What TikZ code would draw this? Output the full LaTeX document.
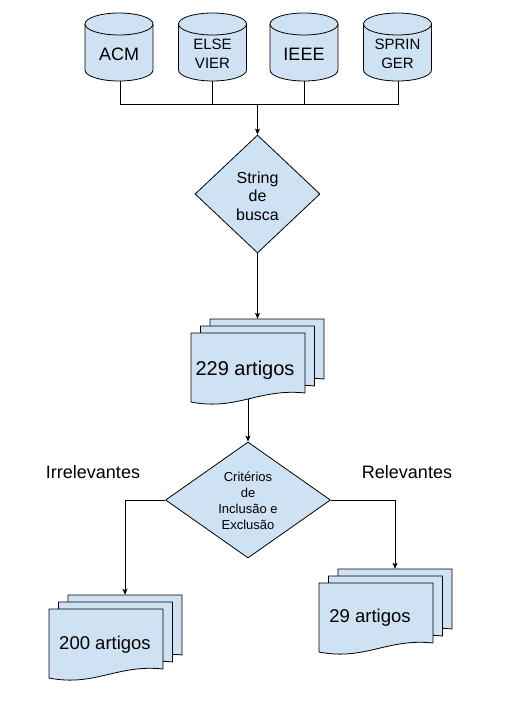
\documentclass[tikz,border=0pt]{standalone}
\usepackage{fontspec}
\setmainfont{Liberation Sans}
\usetikzlibrary{arrows.meta,shapes.geometric}
\definecolor{boxfill}{HTML}{CFE2F3}
\tikzset{
  shapest/.style={draw=black, fill=boxfill, line width=0.8pt, line join=round},
  conn/.style={draw=black, line width=0.8pt},
  arr/.style={conn, -{Stealth[length=6pt,width=5pt,inset=1.5pt]}},
  geo/.style={inner sep=0pt, minimum width=#1pt},
  lbl/.style={inner sep=0pt, align=center},
}
\newcommand\cylshape[1]{%
  \filldraw[shapest] (#1-34,24) -- (#1-34,70)
    arc[start angle=180,end angle=0,x radius=34,y radius=11]
    -- (#1+34,24)
    arc[start angle=0,end angle=-180,x radius=34,y radius=11] -- cycle;
  \draw[shapest,fill=none] (#1+34,24) arc[start angle=0,end angle=180,x radius=34,y radius=11];
}
\newcommand\sheet[2]{%
  \filldraw[shapest] (#1,#2) -- (#1+114,#2) -- (#1+114,#2+60)
    .. controls (#1+68.4,#2+55) and (#1+45.6,#2+78) .. (#1,#2+69) -- cycle;
}
\newcommand\docstack[3]{%
  \sheet{#2+19}{#3-14}
  \sheet{#2+9.5}{#3-7}
  \sheet{#2}{#3}
  \node[inner sep=0pt, minimum width=114pt, minimum height=69pt] (#1) at (#2+57,#3+34.5) {};
  \node[inner sep=0pt, minimum width=114pt, minimum height=69pt] (#1b) at (#2+76,#3+20.5) {};
  \coordinate (#1w) at (#2+57,#3+66);
}
\begin{document}
\begin{tikzpicture}[x=1pt,y=-1pt]
\useasboundingbox (0,0) rectangle (511,707);
% databases
\cylshape{119}
\cylshape{212.5}
\cylshape{304}
\cylshape{397.5}
\node[inner sep=0pt, minimum width=68pt, minimum height=68pt] (cA) at (120,47) {};
\node[inner sep=0pt, minimum width=68pt, minimum height=68pt] (cE) at (212.5,47) {};
\node[inner sep=0pt, minimum width=68pt, minimum height=68pt] (cI) at (304,47) {};
\node[inner sep=0pt, minimum width=68pt, minimum height=68pt] (cS) at (398,47) {};
\node[lbl, font=\fontsize{18}{21}\selectfont] (tA) at (119,54) {ACM};
\node[lbl, font=\fontsize{15}{18.5}\selectfont] (tE) at (212.5,54) {ELSE\\VIER};
\node[lbl, font=\fontsize{18}{21}\selectfont] (tI) at (304,54) {IEEE};
\node[lbl, font=\fontsize{15}{18.5}\selectfont] (tS) at (397.5,54) {SPRIN\\GER};
% search string
\node[diamond, shapest, inner sep=0pt, minimum width=125pt, minimum height=118pt] (s1) at (257.5,194) {};
\node[lbl, font=\fontsize{16}{18.5}\selectfont] (s1t) at (257.5,196) {String\\de\\busca};
% 229 stack
\docstack{d229}{191}{333}
\node[lbl, font=\fontsize{20}{24}\selectfont] (t229) at (245,370) {229 artigos};
% criteria
\node[diamond, shapest, inner sep=0pt, minimum width=165pt, minimum height=116pt] (crit) at (248,500) {};
\node[lbl, font=\fontsize{13}{16}\selectfont] (critt) at (248,501) {Critérios\\de\\Inclusão e\\Exclusão};
\node[lbl, font=\fontsize{18}{21}\selectfont] (irr) at (93,472) {Irrelevantes};
\node[lbl, font=\fontsize{18}{21}\selectfont] (rel) at (407,472) {Relevantes};
% result stacks
\docstack{d200}{49}{609}
\node[lbl, font=\fontsize{18.5}{22}\selectfont] (t200) at (105,645) {200 artigos};
\docstack{d29}{319}{583}
\node[lbl, font=\fontsize{18.5}{22}\selectfont] (t29) at (370,618) {29 artigos};
% connectors
\coordinate (bus) at (257.5,104);
\draw[conn] (cA.south) -- (cA.south |- bus) -- (cS.south |- bus) -- (cS.south);
\draw[conn] (cE.south) -- (cE.south |- bus);
\draw[conn] (cI.south) -- (cI.south |- bus);
\draw[arr] (bus) -- (s1.north);
\draw[arr] (s1.south) -- (s1.south |- d229b.north);
\draw[arr] (d229w) -- (crit.north);
\draw[arr] (crit.west) -| (d200b.north);
\draw[arr] (crit.east) -| (d29b.north);
\end{tikzpicture}
\end{document}
